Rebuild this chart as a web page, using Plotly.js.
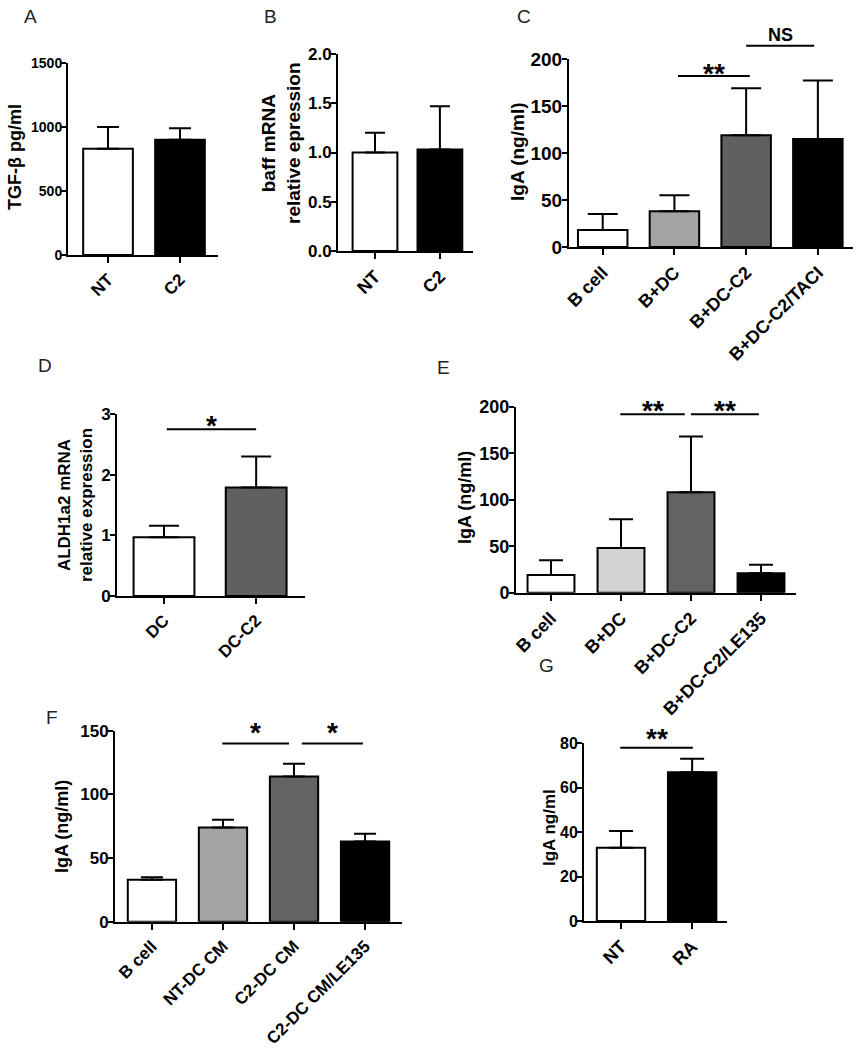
<!DOCTYPE html>
<html><head><meta charset="utf-8">
<script src="https://cdn.plot.ly/plotly-3.0.1.min.js"></script>
<style>html,body{margin:0;padding:0;background:#fff}</style>
</head><body><div id="chart" style="width:857px;height:1050px"></div>
<script>
// ---------------- data ----------------
const catsA = ['NT', 'C2'];
const valsA = [830, 900];
const errA  = [170, 90];

const catsB = ['NT', 'C2'];
const valsB = [1.0, 1.03];
const errB  = [0.2, 0.44];

const catsC = ['B cell', 'B+DC', 'B+DC-C2', 'B+DC-C2/TACI'];
const valsC = [18, 38, 119, 115];
const errC  = [17, 17, 50, 62];
const sigFromC = [1.05, 2.0];
const sigToC   = [2.05, 2.95];
const sigYC    = [182, 214];
const sigTextC = ['**', 'NS'];

const catsD = ['DC', 'DC-C2'];
const valsD = [0.97, 1.79];
const errD  = [0.19, 0.51];
const sigFromD = [0.03];
const sigToD   = [1.0];
const sigYD    = [2.75];
const sigTextD = ['*'];

const catsE = ['B cell', 'B+DC', 'B+DC-C2', 'B+DC-C2/LE135'];
const valsE = [19, 48, 108, 21];
const errE  = [16, 31, 60, 9];
const sigFromE = [0.99, 2.0];
const sigToE   = [1.91, 2.97];
const sigYE    = [192, 192];
const sigTextE = ['**', '**'];

const catsF = ['B cell', 'NT-DC CM', 'C2-DC CM', 'C2-DC CM/LE135'];
const valsF = [33, 74, 114, 63];
const errF  = [2, 6, 10, 6];
const sigFromF = [0.99, 2.11];
const sigToF   = [1.93, 2.97];
const sigYF    = [140, 140];
const sigTextF = ['*', '*'];

const catsG = ['NT', 'RA'];
const valsG = [33, 67];
const errG  = [7.5, 6];
const sigFromG = [-0.01];
const sigToG   = [1.01];
const sigYG    = [78];
const sigTextG = ['**'];

// ---------------- layout helpers ----------------
const W = 857, H = 1050;
const FONT = '"Liberation Sans", Arial, Helvetica, sans-serif';
const traces = [];
const layout = {
  width: W, height: H, margin: {l: 0, r: 0, t: 0, b: 0},
  showlegend: false, paper_bgcolor: '#ffffff', plot_bgcolor: 'rgba(0,0,0,0)',
  annotations: [], shapes: []
};

function addPanel(n, c) {
  const xa = n === 1 ? 'x' : 'x' + n;
  const ya = n === 1 ? 'y' : 'y' + n;
  const xk = n === 1 ? 'xaxis' : 'xaxis' + n;
  const yk = n === 1 ? 'yaxis' : 'yaxis' + n;
  traces.push({
    type: 'bar', x: c.cats, y: c.vals, xaxis: xa, yaxis: ya, width: c.barW,
    marker: {color: c.colors, line: {color: '#000', width: 2}},
    error_y: {type: 'data', symmetric: false, array: c.err, arrayminus: c.err.map(() => 0),
              color: '#000', thickness: 2, width: c.cap},
    hoverinfo: 'none'
  });
  const tickfont = {family: FONT, size: c.tf, color: '#000', weight: 'bold'};
  layout[xk] = {
    domain: [c.px[0] / W, c.px[1] / W], anchor: ya, type: 'category', range: c.xr,
    showline: true, linecolor: '#000', linewidth: 2, ticks: 'outside', ticklen: 6,
    tickwidth: 2, tickcolor: '#000', tickangle: -45,
    tickfont: Object.assign({}, tickfont, {size: c.xtf}),
    showgrid: false, zeroline: false, fixedrange: true
  };
  layout[yk] = {
    domain: [1 - c.py[1] / H, 1 - c.py[0] / H], anchor: xa, range: [0, c.ymax],
    tickmode: 'linear', tick0: 0, dtick: c.dtick, tickformat: c.fmt || '',
    showline: true, linecolor: '#000', linewidth: 2, ticks: 'outside', ticklen: 5,
    tickwidth: 2, tickcolor: '#000', tickfont: tickfont, ticklabelstandoff: -4,
    showgrid: false, zeroline: false, fixedrange: true
  };
  // y title
  layout.annotations.push({
    xref: 'paper', yref: 'paper', x: c.title[1] / W, y: 1 - c.title[2] / H,
    xanchor: 'center', yanchor: 'middle', textangle: -90, showarrow: false,
    text: '<b>' + c.title[0] + '</b>', font: {family: FONT, size: c.titleSize, color: '#000'}
  });
  // panel letter
  layout.annotations.push({
    xref: 'paper', yref: 'paper', x: c.letter[1] / W, y: 1 - c.letter[2] / H,
    xanchor: 'center', yanchor: 'middle', showarrow: false,
    text: c.letter[0], font: {family: FONT, size: 19, color: '#222'}
  });
  // significance
  if (c.sig) {
    let sy = ya;
    if (c.sigTop) {
      // invisible axis with the same scale as the panel's y axis, extended upward
      const m = n + 7;
      const syk = 'yaxis' + m;
      sy = 'y' + m;
      const bottom = c.py[1], top = c.py[0];
      layout[syk] = {domain: [1 - bottom / H, 1 - c.sigTop / H], anchor: xa, visible: false,
                     range: [0, c.ymax * (bottom - c.sigTop) / (bottom - top)], fixedrange: true};
      traces.push({type: 'scatter', x: [], y: [], xaxis: xa, yaxis: sy, hoverinfo: 'none', showlegend: false});
    }
    const [from, to, ys, texts] = c.sig;
    for (let i = 0; i < from.length; i++) {
      layout.shapes.push({type: 'line', xref: xa, yref: sy, x0: from[i], x1: to[i], y0: ys[i], y1: ys[i],
                          line: {color: '#000', width: 2}});
      const isStar = texts[i].indexOf('*') >= 0;
      layout.annotations.push({
        xref: xa, yref: sy, x: (from[i] + to[i]) / 2, y: ys[i], xanchor: 'center', yanchor: 'bottom',
        showarrow: false, text: '<b>' + texts[i] + '</b>',
        yshift: isStar ? c.starShift : -1,
        font: {family: FONT, size: isStar ? c.starSize : 18, color: '#000'}
      });
    }
  }
}

addPanel(1, {cats: catsA, vals: valsA, err: errA, colors: ['#ffffff', '#000000'],
  px: [68, 218], py: [63, 255], xr: [-0.556, 1.528], ymax: 1500, dtick: 500,
  barW: 0.69, cap: 11, tf: 14, xtf: 17, title: ['TGF-β pg/ml', 15, 157], titleSize: 18,
  letter: ['A', 31, 16]});

addPanel(2, {cats: catsB, vals: valsB, err: errB, colors: ['#ffffff', '#000000'],
  px: [338, 473], py: [54, 251], xr: [-0.57, 1.51], ymax: 2, dtick: 0.5, fmt: '.1f',
  barW: 0.69, cap: 10, tf: 17, xtf: 18, title: ['baff mRNA<br>relative epression', 281, 143], titleSize: 19,
  letter: ['B', 270, 16]});

addPanel(3, {cats: catsC, vals: valsC, err: errC, colors: ['#ffffff', '#a3a3a3', '#606060', '#000000'],
  px: [569, 853], py: [59, 247], xr: [-0.47, 3.49], ymax: 200, dtick: 50,
  barW: 0.69, cap: 15, tf: 19, xtf: 18, title: ['IgA (ng/ml)', 517, 152], titleSize: 19,
  letter: ['C', 524, 16], sig: [sigFromC, sigToC, sigYC, sigTextC], sigTop: 25, starShift: -15, starSize: 28});

addPanel(4, {cats: catsD, vals: valsD, err: errD, colors: ['#ffffff', '#606060'],
  px: [117, 305], py: [414, 596], xr: [-0.51, 1.53], ymax: 3, dtick: 1,
  barW: 0.66, cap: 15, tf: 17, xtf: 17, title: ['ALDH1a2 mRNA<br>relative expression', 75, 505], titleSize: 17,
  letter: ['D', 45, 365], sig: [sigFromD, sigToD, sigYD, sigTextD], starShift: -14, starSize: 28});

addPanel(5, {cats: catsE, vals: valsE, err: errE, colors: ['#ffffff', '#d4d4d4', '#636363', '#000000'],
  px: [516, 796], py: [406.7, 592.7], xr: [-0.5, 3.5], ymax: 200, dtick: 50,
  barW: 0.67, cap: 12, tf: 18, xtf: 18, title: ['IgA (ng/ml)', 465, 498], titleSize: 18,
  letter: ['E', 443, 367], sig: [sigFromE, sigToE, sigYE, sigTextE], starShift: -14, starSize: 28});

addPanel(6, {cats: catsF, vals: valsF, err: errF, colors: ['#ffffff', '#a3a3a3', '#646464', '#000000'],
  px: [115, 402], py: [730.7, 921.7], xr: [-0.52, 3.52], ymax: 150, dtick: 50,
  barW: 0.68, cap: 11, tf: 17, xtf: 17, title: ['IgA (ng/ml)', 62, 826], titleSize: 18,
  letter: ['F', 52, 717], sig: [sigFromF, sigToF, sigYF, sigTextF], starShift: -7, starSize: 28});

addPanel(7, {cats: catsG, vals: valsG, err: errG, colors: ['#ffffff', '#000000'],
  px: [584, 727], py: [743.3, 921], xr: [-0.52, 1.49], ymax: 80, dtick: 20,
  barW: 0.68, cap: 12, tf: 16, xtf: 18, title: ['IgA ng/ml', 549, 828], titleSize: 17,
  letter: ['G', 546, 665], sig: [sigFromG, sigToG, sigYG, sigTextG], starShift: -8, starSize: 28});

Plotly.newPlot('chart', traces, layout, {displayModeBar: false, staticPlot: true});
</script>
</body></html>
